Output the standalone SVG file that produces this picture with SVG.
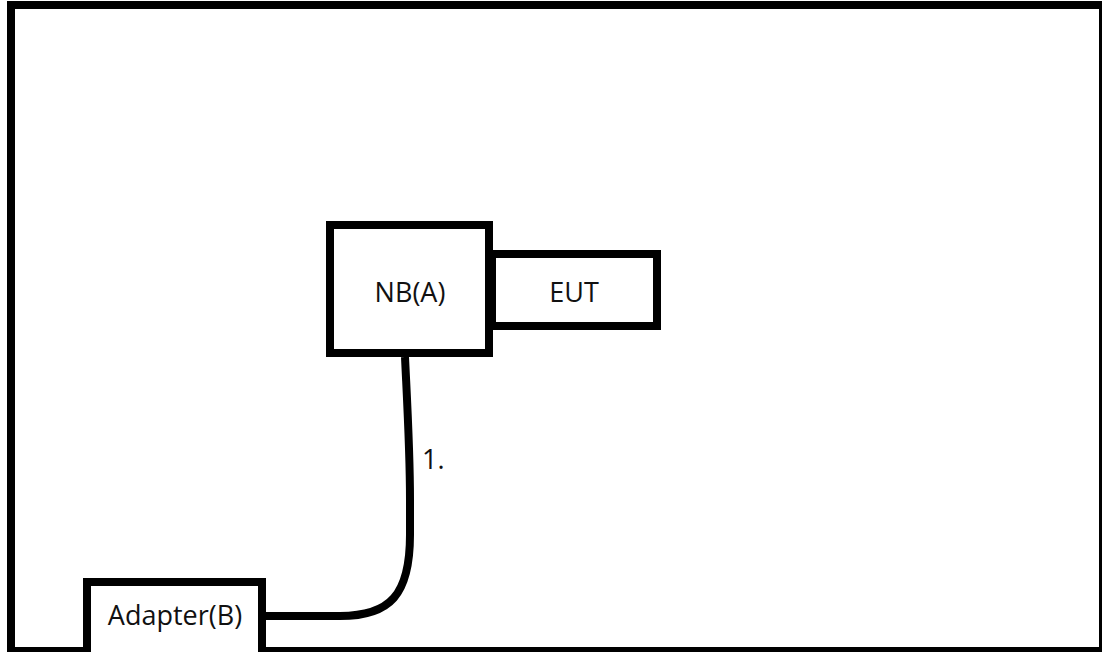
<svg xmlns="http://www.w3.org/2000/svg" width="1102" height="652" viewBox="0 0 1102 652">
<style>
.box{fill:#fff;stroke:#000;stroke-width:8}
.lbl{font-family:"Open Sans","DejaVu Sans",sans-serif;font-size:27px;fill:#111}
.wire{fill:none;stroke:#000;stroke-width:8}
</style>
<rect x="0" y="0" width="1102" height="652" fill="#fff"/>
<rect id="frame" x="11" y="5" width="1092" height="646" fill="none" stroke="#000" stroke-width="8"/>
<g id="connectors">
<path class="wire" d="M405,357 C407,400 410,450 410,500 L410,535 C410,595 390,616 340,616 L264,616"/>
<text class="lbl" x="422" y="469" font-size="25">1.</text>
</g>
<g id="nb">
<rect class="box" x="330" y="225" width="159" height="128"/>
<text class="lbl" x="410" y="302" text-anchor="middle">NB(A)</text>
</g>
<g id="eut">
<rect class="box" x="492" y="254" width="165" height="72"/>
<text class="lbl" x="574" y="302" text-anchor="middle">EUT</text>
</g>
<g id="adapter">
<rect class="box" x="87" y="582" width="175" height="80"/>
<text class="lbl" x="175" y="625" text-anchor="middle" font-size="25">Adapter(B)</text>
</g>
</svg>
